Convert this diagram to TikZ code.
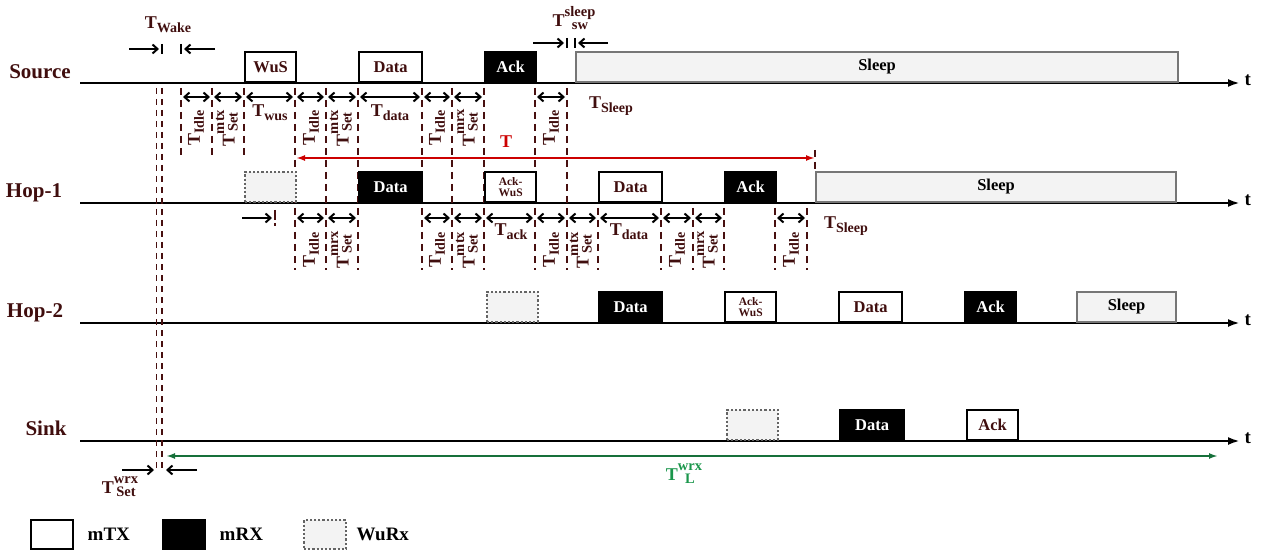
\documentclass[tikz,border=0pt]{standalone}
\usepackage{fontspec}
\setmainfont{Liberation Serif}
\usetikzlibrary{arrows.meta,positioning}

\definecolor{labbrown}{RGB}{64,14,14}
\definecolor{dashbrown}{RGB}{72,16,16}
\definecolor{sleepfill}{RGB}{243,243,243}
\definecolor{sleepline}{RGB}{118,118,118}
\definecolor{dotline}{RGB}{100,100,100}
\definecolor{tred}{RGB}{204,0,0}
\definecolor{tgreen}{RGB}{26,150,75}
\definecolor{tgreenline}{RGB}{22,112,58}

\newcommand{\fs}[1]{\fontsize{#1}{#1}\selectfont}
\newcommand{\tlab}[1]{T\raisebox{-4pt}{\fs{14}#1}}
\newcommand{\tstk}[2]{T\raisebox{3pt}{\fs{14.5}\begin{tabular}{@{}c@{}}#1\\[-1pt]#2\end{tabular}}}

\tikzset{
  axis/.style={line width=2.4pt, -{Latex[length=12pt,width=8pt]}},
  pkt/.style={draw, line width=2.2pt, minimum height=30pt, inner sep=0pt,
    anchor=south west, font=\bfseries\fs{16.5}},
  txpkt/.style={pkt, fill=white, text=labbrown},
  rxpkt/.style={pkt, fill=black, text=white},
  wupkt/.style={pkt, draw=dotline, fill=sleepfill, dotted, line width=2pt},
  sleeppkt/.style={pkt, draw=sleepline, fill=sleepfill, text=black},
  ackwus/.style={align=center, font=\bfseries\fs{11.5}},
  tmark/.style={draw=dashbrown, line width=2.4pt, dash pattern=on 7pt off 5pt},
  dur/.style={line width=2pt,
    {Straight Barb[length=5pt,width=9pt]}-{Straight Barb[length=5pt,width=9pt]}},
  oneway/.style={line width=2pt, -{Straight Barb[length=5pt,width=9pt]}},
  tlabel/.style={font=\bfseries\fs{18}, text=labbrown, inner sep=0pt},
  rowlabel/.style={font=\bfseries\fs{21}, text=labbrown},
  leglabel/.style={font=\bfseries\fs{19}}
}

\begin{document}
\begin{tikzpicture}[x=1pt,y=-1pt]
    \useasboundingbox (0,0) rectangle (1261,556);
    % time axes
    \foreach \y/\n in {83/src,203/hop1,323/hop2,441/sink}
        \draw[axis] (80,\y) -- (1240,\y) node (t-\n) [anchor=west, font=\bfseries\fs{19}, yshift=3pt] {t};
    \node (l-src) [rowlabel] at (40,72) {Source};
    \node (l-hop1) [rowlabel] at (34,193) {Hop-1};
    \node (l-hop2) [rowlabel] at (35,313) {Hop-2};
    \node (l-sink) [rowlabel] at (46,428) {Sink};

    % time marks
    \foreach \x in {156.5,162}
        \draw[tmark, line width=1.8pt, dash pattern=on 6pt off 5pt] (\x,88) -- (\x,472);
    \foreach \x in {181,212,244}
        \draw[tmark] (\x,88) -- (\x,158);
    \foreach \x in {295,326,358,422,452,484,535,567}
        \draw[tmark] (\x,88) -- (\x,270);
    \foreach \x in {598,661,693,724,775,807}
        \draw[tmark] (\x,208) -- (\x,270);
    \draw[tmark] (815,150) -- (815,173);
    \draw[tmark, dash pattern=on 10pt off 3pt] (275,210) -- (275,226);

    % source
    \node (s-wus) [txpkt, minimum width=51] at (244,83) {WuS};
    \node (s-data) [txpkt, minimum width=63] at (358,83) {Data};
    \node (s-ack) [rxpkt, minimum width=51] at (484,83) {Ack};
    \node (s-sleep) [sleeppkt, minimum width=602] at (575,83) {Sleep};
    \foreach \a/\b in {181/212,212/244,244/295,295/326,326/358,358/422,422/452,452/484,535/567}
        \draw[dur] (\a+2,97) -- (\b-2,97);
    \foreach \x in {196,311,437,551}
        \node (si-\x) [tlabel, rotate=90] at (\x,128) {\tlab{Idle}};
    \node (st-228) [tlabel, rotate=90] at (228,128) {\tstk{mtx}{Set}};
    \node (st-342) [tlabel, rotate=90] at (342,128) {\tstk{mtx}{Set}};
    \node (st-468) [tlabel, rotate=90] at (468,128) {\tstk{mrx}{Set}};
    \node (s-twus) [tlabel] at (270,113) {\tlab{wus}};
    \node (s-tdata) [tlabel] at (390,113) {\tlab{data}};
    \node (s-tsleep) [tlabel] at (611,106) {\tlab{Sleep}};

    % wake and switch times
    \node (twake) [tlabel] at (168,25) {\tlab{Wake}};
    \draw[oneway] (129,49) -- (159,49);
    \draw[oneway] (215,49) -- (184,49);
    \draw[line width=1.8pt] (162,44) -- (162,54) (181,44) -- (181,54);
    \node (tsw) [tlabel] at (574,20) {\tstk{sleep}{sw}};
    \draw[oneway] (533,43) -- (564,43);
    \draw[oneway] (608,43) -- (578,43);
    \draw[line width=1.8pt] (567,38) -- (567,48) (575,38) -- (575,48);

    % overall time T
    \draw[tred, line width=2pt, {Latex[length=9pt,width=6pt]}-{Latex[length=9pt,width=6pt]}] (296,158) -- (815,158);
    \node (tt) [tlabel, text=tred] at (506,142) {T};

    % hop-1
    \node (h1-wurx) [wupkt, minimum width=51] at (244,203) {};
    \node (h1-data) [rxpkt, minimum width=63] at (358,203) {Data};
    \node (h1-ackwus) [txpkt, ackwus, minimum width=51] at (484,203) {Ack-\\WuS};
    \node (h1-data2) [txpkt, minimum width=63] at (598,203) {Data};
    \node (h1-ack) [rxpkt, minimum width=51] at (724,203) {Ack};
    \node (h1-sleep) [sleeppkt, minimum width=360] at (815,203) {Sleep};
    \draw[oneway] (242,218) -- (272,218);
    \foreach \a/\b in {295/326,326/358,422/452,452/484,484/535,535/567,567/598,598/661,661/693,693/724,775/807}
        \draw[dur] (\a+2,218) -- (\b-2,218);
    \foreach \x in {311,437,551,677,791}
        \node (hi-\x) [tlabel, rotate=90] at (\x,250) {\tlab{Idle}};
    \node (ht-342) [tlabel, rotate=90] at (342,250) {\tstk{mrx}{Set}};
    \node (ht-468) [tlabel, rotate=90] at (468,250) {\tstk{mtx}{Set}};
    \node (ht-582) [tlabel, rotate=90] at (582,250) {\tstk{mtx}{Set}};
    \node (ht-708) [tlabel, rotate=90] at (708,250) {\tstk{mrx}{Set}};
    \node (h-tack) [tlabel] at (511,232) {\tlab{ack}};
    \node (h-tdata) [tlabel] at (629,232) {\tlab{data}};
    \node (h-tsleep) [tlabel] at (846,226) {\tlab{Sleep}};

    % hop-2
    \node (h2-wurx) [wupkt, minimum width=51] at (486,323) {};
    \node (h2-data) [rxpkt, minimum width=63] at (598,323) {Data};
    \node (h2-ackwus) [txpkt, ackwus, minimum width=51] at (724,323) {Ack-\\WuS};
    \node (h2-data2) [txpkt, minimum width=63] at (838,323) {Data};
    \node (h2-ack) [rxpkt, minimum width=51] at (964,323) {Ack};
    \node (h2-sleep) [sleeppkt, minimum width=99] at (1076,323) {Sleep};

    % sink
    \node (sk-wurx) [wupkt, minimum width=51] at (726,441) {};
    \node (sk-data) [rxpkt, minimum width=64] at (839,441) {Data};
    \node (sk-ack) [txpkt, minimum width=51] at (966,441) {Ack};

    % wake-up receiver latency
    \draw[tgreenline, line width=2pt, {Latex[length=9pt,width=6pt]}-{Latex[length=9pt,width=6pt]}] (166,456) -- (1218,456);
    \node (twrx) [tlabel, text=tgreen] at (684,474) {\tstk{wrx}{L}};
    \draw[oneway] (122,470) -- (154,470);
    \draw[oneway] (197,470) -- (166,470);
    \node (tset) [tlabel] at (120,487) {\tstk{wrx}{Set}};

    % legend
    \node (lg-tx) [txpkt, minimum width=42, minimum height=29] at (30,550) {};
    \node (lg-txl) [leglabel, right=10pt of lg-tx] {mTX};
    \node (lg-rx) [rxpkt, minimum width=42, minimum height=29] at (162,550) {};
    \node (lg-rxl) [leglabel, right=10pt of lg-rx] {mRX};
    \node (lg-wu) [wupkt, minimum width=42, minimum height=29] at (303,550) {};
    \node (lg-wul) [leglabel, right=6pt of lg-wu] {WuRx};
\end{tikzpicture}
\end{document}
